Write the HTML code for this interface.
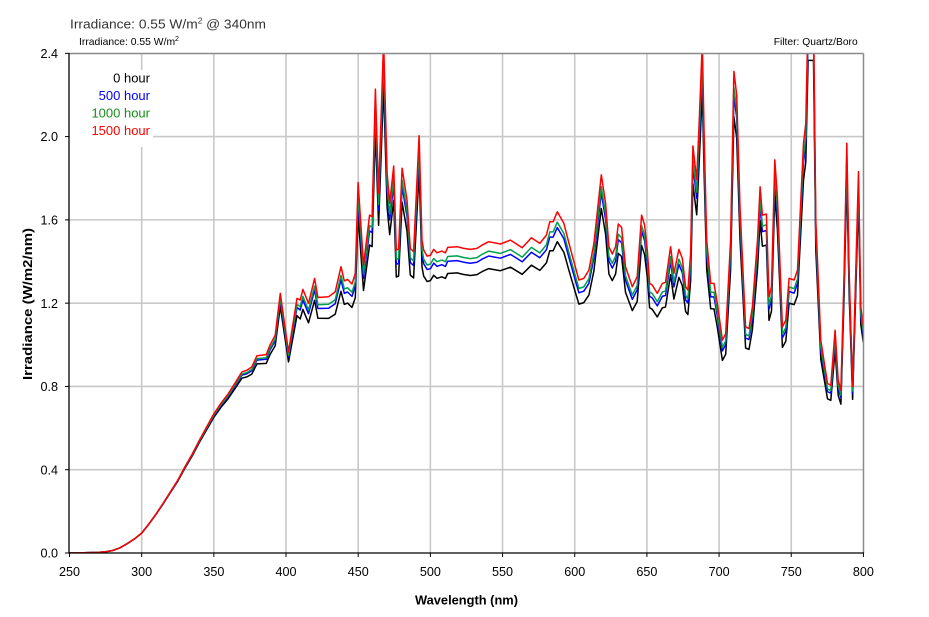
<!DOCTYPE html>
<html><head><meta charset="utf-8"><style>
html,body{margin:0;padding:0;background:#fff;}
svg{display:block;}
text{font-family:"Liberation Sans",Arial,sans-serif;}
</style></head><body>
<svg id="c" width="929" height="617" viewBox="0 0 929 617" xmlns="http://www.w3.org/2000/svg">
<rect width="929" height="617" fill="#fff"/>
<g id="grid" stroke="#c8c8c8" stroke-width="1.6"></g>
<rect x="70" y="70" width="83" height="77" fill="#fff"/>
<defs><clipPath id="cp"><rect x="69" y="53.3" width="795" height="500"/></clipPath></defs>
<g clip-path="url(#cp)" fill="none" stroke-width="1.5" stroke-linejoin="round">
<path id="pk" stroke="#000"/>
<path id="pb" stroke="#0000ff"/>
<path id="pg" stroke="#00a050"/>
<path id="pr" stroke="#ff0000"/>
</g>
<line x1="69" y1="53.5" x2="863.5" y2="53.5" stroke="#8a8a8a" stroke-width="1.5"/>
<line x1="863.5" y1="53.5" x2="863.5" y2="553" stroke="#8a8a8a" stroke-width="1.5"/>
<line x1="69" y1="53" x2="69" y2="553.5" stroke="#000" stroke-width="1.3"/>
<line x1="68.5" y1="553" x2="864" y2="553" stroke="#000" stroke-width="1.3"/>
<g id="ticks" stroke="#000" stroke-width="1"></g>
<g id="labels" font-size="12.6" fill="#000"></g>
<text x="70" y="28.3" font-size="13.3" fill="#333" textLength="196" lengthAdjust="spacingAndGlyphs">Irradiance: 0.55 W/m<tspan font-size="8" dy="-5">2</tspan><tspan dy="5"> @ 340nm</tspan></text>
<text x="79" y="45" font-size="10.3" fill="#000" textLength="100" lengthAdjust="spacingAndGlyphs">Irradiance: 0.55 W/m<tspan font-size="7" dy="-4">2</tspan></text>
<text x="857.7" y="45" font-size="10.3" fill="#000" text-anchor="end" textLength="84" lengthAdjust="spacingAndGlyphs">Filter: Quartz/Boro</text>
<g font-size="13" text-anchor="end">
<text x="150" y="82.7" fill="#000">0 hour</text>
<text x="150" y="100" fill="#0000ff">500 hour</text>
<text x="150" y="117.3" fill="#1a8c1a">1000 hour</text>
<text x="150" y="135" fill="#ff0000">1500 hour</text>
</g>
<text x="466.5" y="604.3" font-size="12.8" font-weight="bold" text-anchor="middle" textLength="103" lengthAdjust="spacingAndGlyphs">Wavelength (nm)</text>
<text transform="translate(32,304) rotate(-90)" font-size="12.8" font-weight="bold" text-anchor="middle" textLength="152" lengthAdjust="spacingAndGlyphs">Irradiance (W/m2/nm)</text>
</svg>
<script>
(function(){
var NS="http://www.w3.org/2000/svg";
function X(l){return 69.5+(l-250)*1.4435;}
function Y(v){return 553-v*208.2;}
var g=document.getElementById('grid'),tk=document.getElementById('ticks'),lb=document.getElementById('labels');
function el(p,tag,a,txt){var e=document.createElementNS(NS,tag);for(var k in a)e.setAttribute(k,a[k]);if(txt)e.textContent=txt;p.appendChild(e);return e;}
for(var l=300;l<800;l+=50){var x=X(l);el(g,'line',{x1:x,y1:54,x2:x,y2:553});}
for(var i=1;i<6;i++){var y=Y(i*0.4);el(g,'line',{x1:69,y1:y,x2:863,y2:y});}
for(var l=250;l<=800;l+=50){var x=X(l);el(tk,'line',{x1:x,y1:553,x2:x,y2:557});el(lb,'text',{x:x,y:576,'text-anchor':'middle'},String(l));}
for(var i=0;i<=6;i++){var y=Y(i*0.4);el(tk,'line',{x1:65,y1:y,x2:69,y2:y});el(lb,'text',{x:58,y:y+4.6,'text-anchor':'end'},(i*0.4).toFixed(1));}
var R=[[250,0],[260,0.001],[270,0.003],[275,0.006],[280,0.012],[285,0.025],[290,0.045],[295,0.068],[300,0.096],[305,0.14],[310,0.188],[315,0.24],[320,0.295],[325,0.35],[330,0.415],[335,0.475],[340,0.542],[345,0.605],[350,0.668],[355,0.72],[360,0.765],[365,0.82],[369.4,0.87],[372.9,0.878],[376.3,0.894],[379.8,0.947],[386.3,0.953],[389,1.0],[392.5,1.046],[396,1.247],[401.7,0.966],[407.6,1.223],[409.8,1.215],[411.7,1.266],[415.6,1.199],[419.8,1.319],[422.1,1.227],[429.5,1.231],[434.1,1.254],[438.1,1.375],[440.4,1.307],[442.6,1.314],[445.7,1.292],[448,1.343],[449.9,1.779],[453.7,1.383],[457.9,1.623],[459.6,1.615],[461.9,2.228],[464.1,1.728],[467.6,2.46],[470,1.824],[471.8,1.68],[474.6,1.859],[476.4,1.455],[478,1.46],[480.4,1.848],[483.8,1.695],[486.1,1.463],[488.4,1.447],[492.2,2.005],[494.2,1.503],[495.4,1.455],[497.7,1.426],[500,1.43],[502.3,1.458],[504.6,1.442],[507.9,1.45],[510.4,1.442],[512,1.468],[518.5,1.471],[523.1,1.463],[527.7,1.458],[532.3,1.463],[535.8,1.479],[540.4,1.495],[548.5,1.484],[555.5,1.503],[563.6,1.466],[570,1.514],[575.8,1.487],[580.4,1.527],[582.7,1.591],[585,1.591],[587.9,1.639],[592.5,1.583],[596,1.487],[599.4,1.399],[602.9,1.311],[606.3,1.319],[609.8,1.359],[613.3,1.487],[618.4,1.816],[621.4,1.68],[623.7,1.471],[626,1.436],[628.3,1.471],[630.2,1.58],[632.5,1.564],[635.2,1.375],[639.9,1.279],[643.3,1.327],[646.3,1.623],[648.4,1.575],[650.3,1.455],[651.9,1.295],[653.7,1.287],[657.2,1.247],[660.7,1.295],[662.9,1.3],[666.4,1.471],[668.7,1.343],[672.2,1.458],[674.5,1.415],[676.8,1.279],[678.4,1.263],[680.3,1.439],[681.9,1.955],[684.5,1.792],[686.1,2.048],[688.4,2.45],[689.6,2.016],[691.4,1.503],[694.2,1.295],[696.5,1.295],[698.8,1.199],[702.3,1.022],[704.6,1.054],[708,1.503],[710.3,2.313],[712.2,2.2],[714.5,1.663],[718.4,1.086],[720.7,1.078],[723.1,1.182],[726.6,1.503],[728.4,1.759],[730,1.623],[732.8,1.628],[734.6,1.23],[736.3,1.279],[738.6,1.888],[740.4,1.711],[743.9,1.086],[746.2,1.118],[748.5,1.319],[752,1.311],[754.3,1.359],[758.5,1.968],[760.1,2.064],[761.7,2.6],[765.4,2.6],[767,1.6],[770.5,1.022],[775.1,0.814],[777.4,0.806],[780.4,1.07],[782.5,0.83],[784.4,0.782],[786.6,1.343],[788.5,1.968],[790.1,1.359],[792.5,0.8],[794,1.182],[796.6,1.832],[798.2,1.182],[800,1.086]];
var D=[[250,0],[300,0.01],[340,0.02],[370,0.035],[396,0.05],[402,0.05],[410,0.075],[430,0.085],[470,0.09],[500,0.085],[600,0.088],[650,0.09],[700,0.095],[750,0.09],[780,0.09],[800,0.07]];
function dd(l){for(var i=1;i<D.length;i++){if(l<=D[i][0]){var a=D[i-1],b=D[i];return a[1]+(b[1]-a[1])*(l-a[0])/(b[0]-a[0]);}}return D[D.length-1][1];}
function path(k){var s='';for(var i=0;i<R.length;i++){var l=R[i][0],v=R[i][1]*(1-k*dd(l));s+=(i?'L':'M')+X(l).toFixed(1)+','+Y(v).toFixed(1);}return s;}
document.getElementById('pk').setAttribute('d',path(1));
document.getElementById('pb').setAttribute('d',path(0.53));
document.getElementById('pg').setAttribute('d',path(0.35));
document.getElementById('pr').setAttribute('d',path(0));
})();
</script>
</body></html>
